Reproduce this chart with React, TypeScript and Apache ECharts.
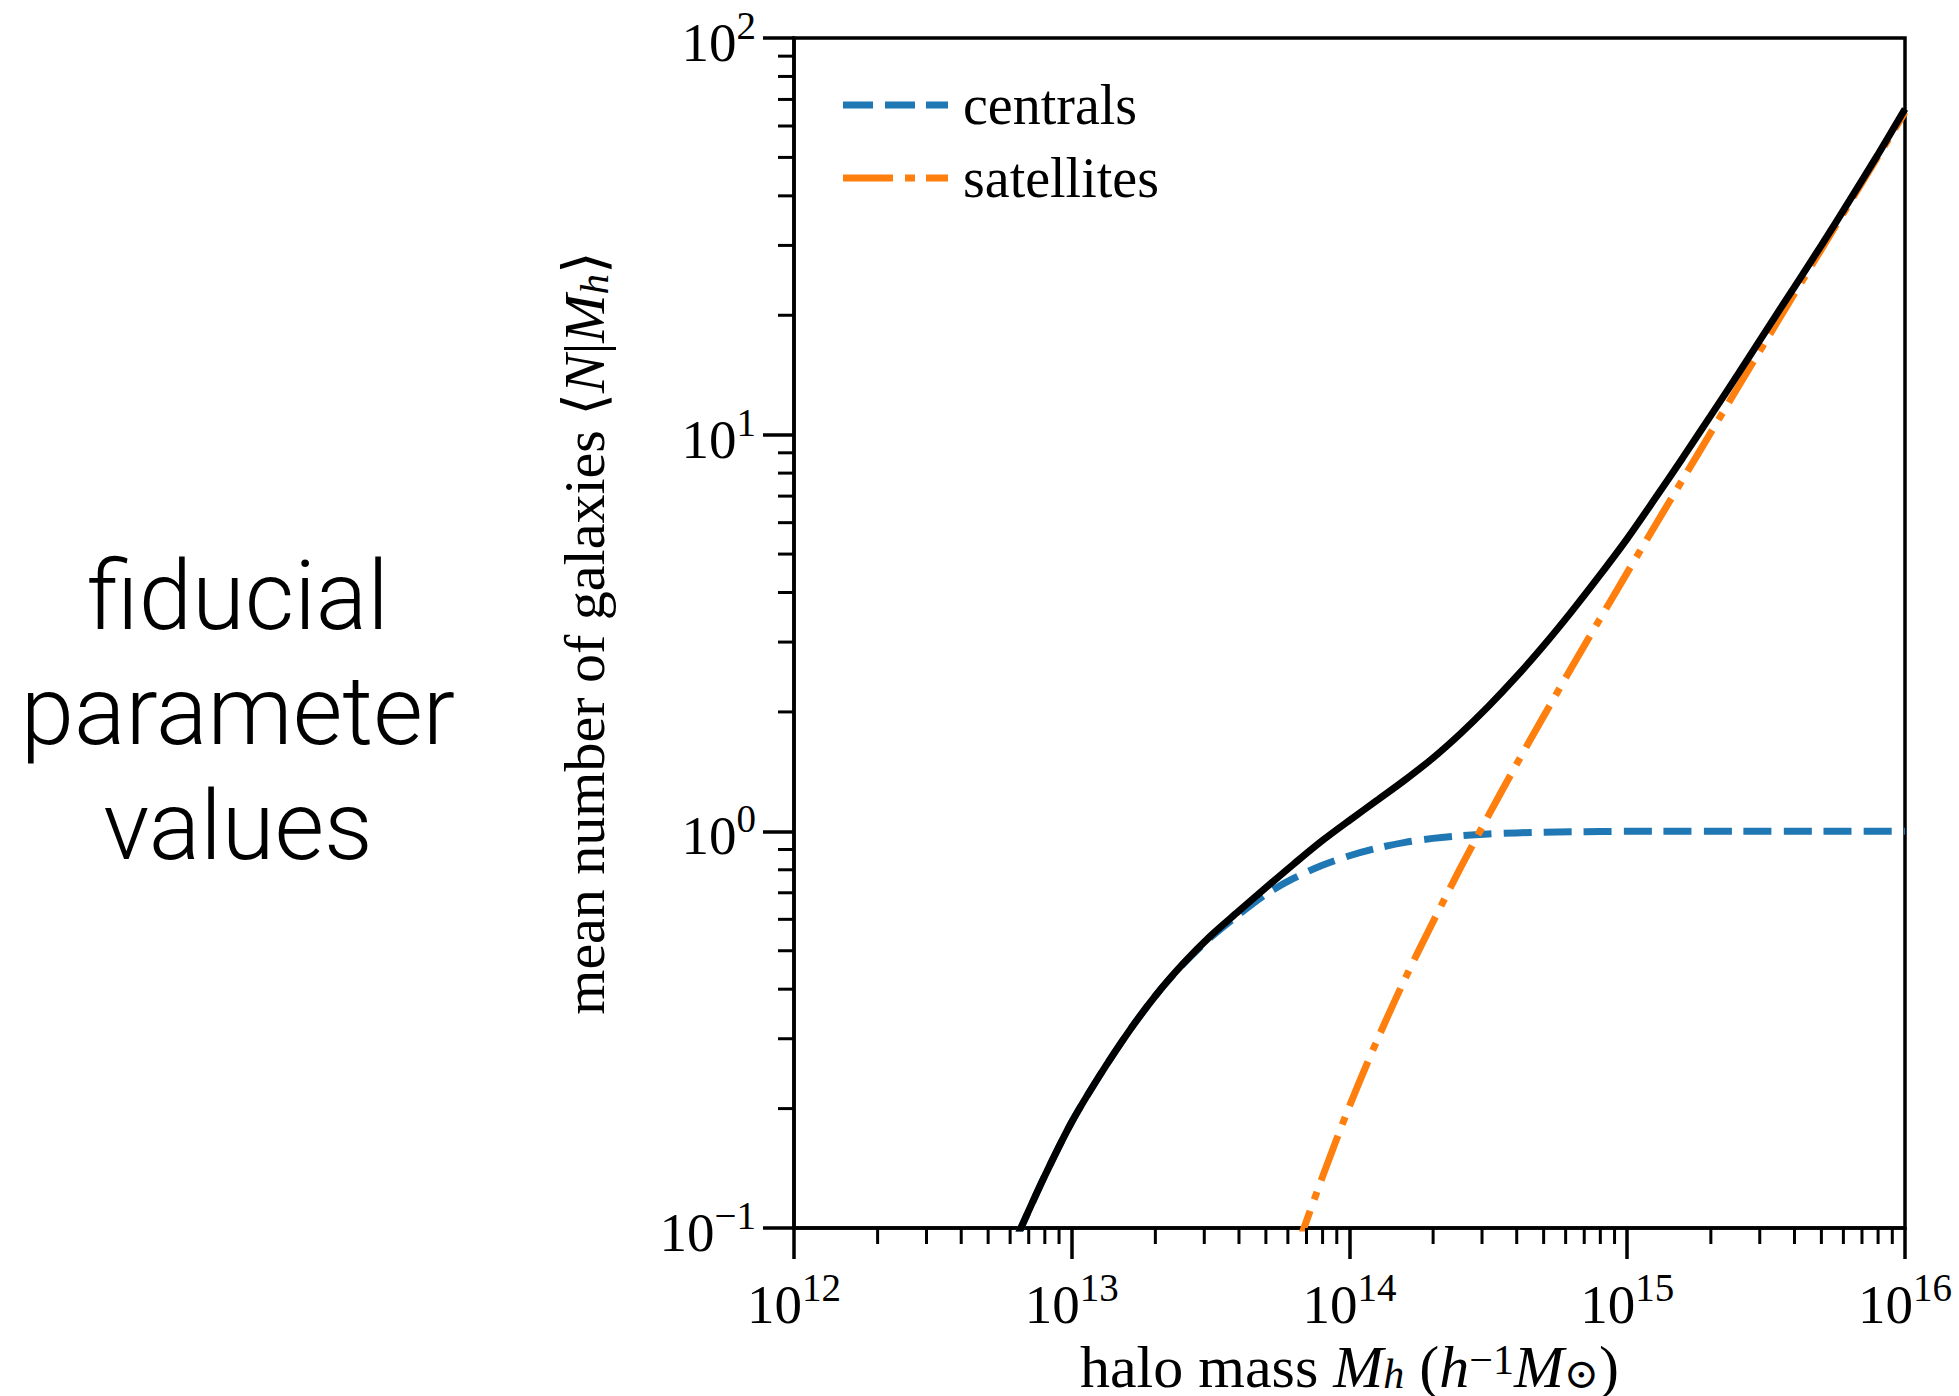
import React, { useEffect, useRef } from "react";
import * as echarts from "echarts";

// ---- data (log10 of halo mass, mean number) ----
const massExponents = [
  12.8, 12.9, 13.0, 13.1, 13.2, 13.3, 13.4, 13.5, 13.6, 13.7, 13.8, 13.9, 14.0,
  14.1, 14.2, 14.3, 14.4, 14.5, 14.6, 14.7, 14.8, 14.9, 15.0, 15.1, 15.2, 15.3,
  15.4, 15.5, 15.6, 15.7, 15.8, 15.9, 16.0,
];
const totalGalaxies = [
  0.094, 0.134, 0.185, 0.242, 0.309, 0.384, 0.463, 0.545, 0.628, 0.722, 0.828,
  0.945, 1.066, 1.198, 1.348, 1.53, 1.765, 2.065, 2.45, 2.945, 3.585, 4.41,
  5.47, 6.9, 8.75, 11.15, 14.25, 18.3, 23.45, 30.1, 38.9, 50.5, 66.2,
];
const centralGalaxies = [
  0.094, 0.134, 0.185, 0.242, 0.309, 0.384, 0.462, 0.54, 0.616, 0.695, 0.762,
  0.82, 0.868, 0.907, 0.938, 0.96, 0.975, 0.985, 0.991, 0.995, 0.997, 0.999,
  1.0, 1.0, 1.0, 1.0, 1.0, 1.0, 1.0, 1.0, 1.0, 1.0, 1.0,
];
const satelliteExponents = [
  13.8, 13.9, 14.0, 14.1, 14.2, 14.3, 14.4, 14.5, 14.6, 14.7, 14.8, 14.9, 15.0,
  15.1, 15.2, 15.3, 15.4, 15.5, 15.6, 15.7, 15.8, 15.9, 16.0,
];
const satelliteGalaxies = [
  0.085, 0.133, 0.203, 0.298, 0.425, 0.59, 0.81, 1.095, 1.47, 1.956, 2.591,
  3.415, 4.49, 5.894, 7.718, 10.1, 13.23, 17.28, 22.57, 29.41, 38.32, 49.93,
  65.0,
];
const xDecades = [12, 13, 14, 15];
const yDecades = [-1, 0, 1];
const minorMultipliers = [2, 3, 4, 5, 6, 7, 8, 9];
const seriesNames = ["centrals", "satellites"];
const sideText = ["fiducial", "parameter", "values"];

const X_MIN = 1e12;
const X_MAX = 1e16;
const Y_MIN = 0.1;
const Y_MAX = 100;

const SERIF = "'Liberation Serif', 'DejaVu Serif', serif";
const SANS = "Roboto, 'Liberation Sans', sans-serif";

const BLUE = "#1f77b4";
const ORANGE = "#ff7f0e";

const xMinor: number[] = [];
xDecades.forEach((d) => minorMultipliers.forEach((m) => xMinor.push(m * Math.pow(10, d))));
const yMinor: number[] = [];
yDecades.forEach((d) => minorMultipliers.forEach((m) => yMinor.push(m * Math.pow(10, d))));

const pairs = (exps: number[], vals: number[]) =>
  exps.map((e, i) => [Math.pow(10, e), vals[i]]);

const tickLabel = (value: number) => {
  const e = Math.round(Math.log10(value));
  const s = e < 0 ? "\u2212" + Math.abs(e) : String(e);
  return `{b|10}{s|${s}}`;
};

const labelRich = {
  b: { fontSize: 55, fontFamily: SERIF, color: "#000", lineHeight: 64, verticalAlign: "bottom" },
  s: { fontSize: 39, fontFamily: SERIF, color: "#000", lineHeight: 39, verticalAlign: "top" },
};

const makeNameRich = (size: number, lh: number) => {
  const small = Math.round(size * 0.7);
  return {
    r: { fontSize: size, fontFamily: SERIF, color: "#000", lineHeight: lh, verticalAlign: "middle" },
    i: { fontSize: size, fontFamily: SERIF, fontStyle: "italic", color: "#000", lineHeight: lh, verticalAlign: "middle" },
    sub: { fontSize: small, fontFamily: SERIF, fontStyle: "italic", color: "#000", lineHeight: 30, verticalAlign: "bottom" },
    subr: { fontSize: small, fontFamily: SERIF, color: "#000", lineHeight: 30, verticalAlign: "bottom" },
    sup: { fontSize: small, fontFamily: SERIF, color: "#000", lineHeight: 30, verticalAlign: "top" },
  };
};

// legend samples: dashed (centrals) and dash-dot (satellites)
const centralsIcon = "path://M0 0H30V7H0Z M42 0H72V7H42Z M83 0H105V7H83Z";
const satellitesIcon = "path://M0 0H50V7H0Z M62 0H72V7H62Z M83 0H105V7H83Z";

export default function App() {
  const ref = useRef<HTMLDivElement>(null);

  useEffect(() => {
    if (!ref.current) return;
    const chart = echarts.init(ref.current, null, { renderer: "svg" });

    const tickSeries = (values: number[], horizontal: boolean) => ({
      type: "custom",
      coordinateSystem: "cartesian2d",
      silent: true,
      clip: false,
      z: 10,
      data: values.map((v) => (horizontal ? [v, Y_MIN] : [X_MIN, v])),
      renderItem: (_p: any, api: any) => {
        const pt = api.coord([api.value(0), api.value(1)]);
        return {
          type: "line",
          shape: horizontal
            ? { x1: pt[0], y1: pt[1], x2: pt[0], y2: pt[1] + 16 }
            : { x1: pt[0] - 16, y1: pt[1], x2: pt[0], y2: pt[1] },
          style: { stroke: "#000", lineWidth: 3 },
        };
      },
    });

    chart.setOption({
      animation: false,
      backgroundColor: "#fff",
      grid: {
        left: 794,
        top: 38,
        width: 1111,
        height: 1190,
        containLabel: false,
        outerBoundsMode: "none",
        show: true,
        borderColor: "#000",
        borderWidth: 3.5,
        backgroundColor: "transparent",
      },
      legend: {
        data: [
          { name: seriesNames[0], icon: centralsIcon },
          { name: seriesNames[1], icon: satellitesIcon },
        ],
        orient: "vertical",
        left: 838,
        top: 72,
        itemWidth: 105,
        itemHeight: 7,
        itemGap: 17,
        symbolKeepAspect: false,
        itemStyle: { borderWidth: 0 },
        textStyle: {
          fontFamily: SERIF,
          fontSize: 56,
          lineHeight: 56,
          color: "#000",
          padding: [0, 0, 0, 10],
        },
      },
      xAxis: {
        type: "log",
        logBase: 10,
        min: X_MIN,
        max: X_MAX,
        name: "{r|halo mass }{i|M}{sub|h}{r| (}{i|h}{sup|\u22121}{i|M}{subr|\u2299}{r|)}",
        nameLocation: "middle",
        nameGap: 96,
        nameTextStyle: { rich: makeNameRich(60, 56), verticalAlign: "top" },
        axisLine: { show: true, onZero: false, lineStyle: { color: "#000", width: 3.5 } },
        axisTick: { show: true, inside: false, length: 31, lineStyle: { color: "#000", width: 3.5 } },
        axisLabel: { formatter: tickLabel, rich: labelRich, margin: 40 },
        splitLine: { show: false },
        minorTick: { show: false },
      },
      yAxis: {
        type: "log",
        logBase: 10,
        min: Y_MIN,
        max: Y_MAX,
        name: "{r|mean number of galaxies }{r|\u27E8}{i|N}{r||}{i|M}{sub|h}{r|\u27E9}",
        nameLocation: "middle",
        nameGap: 180,
        nameRotate: 90,
        nameTextStyle: { rich: makeNameRich(58, 60) },
        axisLine: { show: true, onZero: false, lineStyle: { color: "#000", width: 3.5 } },
        axisTick: { show: true, inside: false, length: 31, lineStyle: { color: "#000", width: 3.5 } },
        axisLabel: { formatter: tickLabel, rich: labelRich, margin: 38 },
        splitLine: { show: false },
        minorTick: { show: false },
      },
      graphic: sideText.map((t, i) => ({
        type: "text",
        x: 238,
        y: 596 + i * 115,
        silent: true,
        style: {
          text: t,
          fontFamily: SANS,
          fontWeight: 300,
          fontSize: 96,
          fill: "#000",
          textAlign: "center",
          verticalAlign: "middle",
        },
      })),
      series: [
        {
          name: "centrals",
          type: "line",
          data: pairs(massExponents, centralGalaxies),
          symbol: "none",
          showSymbol: false,
          smooth: 0.3,
          lineStyle: { color: BLUE, width: 7, type: [28, 12], cap: "butt" },
          itemStyle: { color: BLUE },
          z: 2,
        },
        {
          name: "satellites",
          type: "line",
          data: pairs(satelliteExponents, satelliteGalaxies),
          symbol: "none",
          showSymbol: false,
          smooth: 0.3,
          lineStyle: { color: ORANGE, width: 7, type: [48, 12, 8, 12], cap: "butt" },
          itemStyle: { color: ORANGE },
          z: 2,
        },
        {
          name: "total",
          type: "line",
          data: pairs(massExponents, totalGalaxies),
          symbol: "none",
          showSymbol: false,
          smooth: 0.3,
          lineStyle: { color: "#000", width: 7 },
          itemStyle: { color: "#000" },
          z: 3,
        },
        tickSeries(xMinor, true),
        tickSeries(yMinor, false),
      ],
    });

    return () => chart.dispose();
  }, []);

  return (
    <div
      ref={ref}
      style={{ position: "absolute", left: 0, top: 0, width: 1959, height: 1396, background: "#fff" }}
    />
  );
}
